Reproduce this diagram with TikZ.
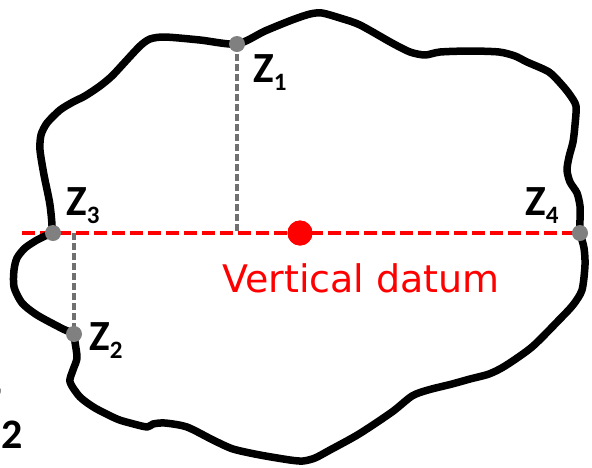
\documentclass[tikz,border=0pt]{standalone}
\usepackage{fontspec}
\setmainfont{Carlito}
\newfontfamily\dejavu{DejaVu Sans}
\definecolor{ptgray}{HTML}{808080}
\definecolor{lngray}{HTML}{707070}
\definecolor{datumred}{HTML}{FF0000}
\newcommand{\zlab}[2]{\bfseries Z\raisebox{-0.2em}{\fontsize{25}{25}\selectfont\bfseries #2}}
\begin{document}
\begin{tikzpicture}[x=1pt,y=-1pt,
  outline/.style={line width=7.5pt,line join=round,black},
  ptdot/.style={circle,fill=ptgray,minimum size=16pt,inner sep=0pt},
  reddot/.style={circle,fill=datumred,minimum size=25pt,inner sep=0pt},
  graydash/.style={lngray,line width=3.6pt,dash pattern=on 6.5pt off 3.5pt},
  reddash/.style={datumred,line width=4.5pt,dash pattern=on 13pt off 5pt},
  zlabel/.style={inner sep=0pt,anchor=base west,font=\fontsize{43}{43}\selectfont}]
\useasboundingbox (0,0) rectangle (592,467);
% named points
\coordinate (left) at (22,233);
\coordinate (f1) at (237,233);
\coordinate (f2) at (74,233);
\node[reddot] (datum) at (300,233) {};
% datum line
\draw[reddash] (left) -- (580,233) coordinate (z4c);
% vertical dashed lines
\coordinate (z1c) at (237,44);
\coordinate (z2c) at (74,334);
\draw[graydash] (z1c) -- (f1);
\draw[graydash] (f2) -- (z2c);
% outline
\draw[outline] plot[smooth cycle,tension=0.45] coordinates {
(52,232) (50,205) (44,175) (40,150) (41,135) (47,123) (60,110) (73,102) (85,96)
(100,86) (112,76) (125,62) (140,46) (150,39) (165,37) (200,40) (237,44)
(265,31) (292,20) (310,14) (322,13) (340,18) (360,25) (392,43) (410,52) (425,55)
(440,52) (470,51) (499,52) (515,56) (527,62) (549,72) (562,85) (570,95)
(576,106) (575,125) (573,142) (569,157) (567,170) (570,182) (577,193) (580,206)
(580,220) (580,232) (584,248) (585,265) (582,290) (573,305) (559,320) (532,347)
(505,366) (489,374) (470,379) (452,384) (428,390) (412,396) (392,412) (359,434)
(330,450) (315,458) (303,461) (290,460) (260,455) (233,449) (213,440) (187,427)
(165,423) (153,424) (147,427) (130,423) (117,419) (95,408) (80,397) (70,382)
(73,370) (77,358) (75,342) (74,334) (63,329) (37,315) (22,303) (14,287)
(14,270) (17,258) (25,248) (37,240) (45,236)};
% redraw datum dot on top
\node[reddot] at (datum) {};
% gray points
\node[ptdot] (z1) at (z1c) {};
\node[ptdot] (z2) at (z2c) {};
\node[ptdot] (z3) at (53,233) {};
\node[ptdot] (z4) at (z4c) {};
% labels
\node[zlabel] (l1) at (253,82) {\zlab{}{1}};
\node[zlabel] (l3) at (66,215) {\zlab{}{3}};
\node[zlabel] (l4) at (525,215) {\zlab{}{4}};
\node[zlabel] (l2) at (89,350) {\zlab{}{2}};
\node[inner sep=0pt,anchor=base west,text=datumred,font=\dejavu\fontsize{38}{38}\selectfont] (vd) at (222,292) {Vertical datum};
% clipped partial label at lower left
\begin{scope}
\clip (0,380) rectangle (30,467);
\node[inner sep=0pt,anchor=base east,font=\fontsize{70}{70}\selectfont] (lx) at (23,434) {\bfseries Z\raisebox{-0.2em}{\fontsize{42}{42}\selectfont\bfseries 2}};
\end{scope}
\end{tikzpicture}
\end{document}
